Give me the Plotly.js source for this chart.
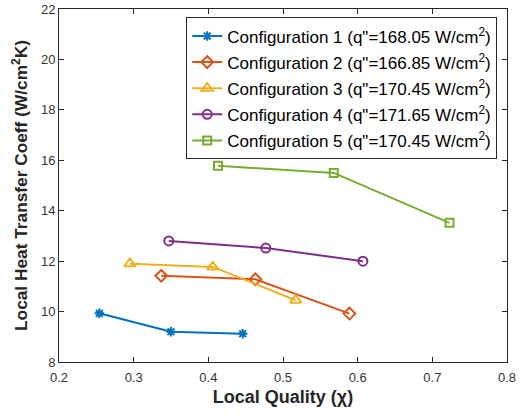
<!DOCTYPE html>
<html>
<head>
<meta charset="utf-8">
<script src="https://cdn.plot.ly/plotly-3.0.1.min.js"></script>
<style>html,body{margin:0;padding:0;background:#fff}#chart{width:519px;height:417px}</style>
</head>
<body>
<div id="chart"></div>
<script>
const seriesNames = [
  'Configuration 1 (q"=168.05 W/cm<sup>2</sup>)',
  'Configuration 2 (q"=166.85 W/cm<sup>2</sup>)',
  'Configuration 3 (q"=170.45 W/cm<sup>2</sup>)',
  'Configuration 4 (q"=171.65 W/cm<sup>2</sup>)',
  'Configuration 5 (q"=170.45 W/cm<sup>2</sup>)'
];
const x1 = [0.254, 0.350, 0.446];
const y1 = [9.93, 9.20, 9.12];
const x2 = [0.337, 0.463, 0.589];
const y2 = [11.42, 11.28, 9.92];
const x3 = [0.295, 0.406, 0.517];
const y3 = [11.90, 11.77, 10.45];
const x4 = [0.347, 0.477, 0.607];
const y4 = [12.80, 12.52, 12.00];
const x5 = [0.413, 0.568, 0.723];
const y5 = [15.78, 15.50, 13.52];
const xTicks = [0.2, 0.3, 0.4, 0.5, 0.6, 0.7, 0.8];
const yTicks = [8, 10, 12, 14, 16, 18, 20, 22];

const colors = ['#0072BD', '#D95319', '#EDB120', '#7E2F8E', '#77AC30'];
const symbols = ['asterisk-open', 'diamond-open', 'triangle-up-open', 'circle-open', 'square-open'];
const sizes = [8, 9, 10, 9, 8];
const xs = [x1, x2, x3, x4, x5];
const ys = [y1, y2, y3, y4, y5];

const traces = xs.map((x, i) => ({
  x: x, y: ys[i], name: seriesNames[i], type: 'scatter', mode: 'lines+markers',
  legendgroup: 'g' + i,
  line: {color: colors[i], width: 2},
  marker: {symbol: symbols[i], size: sizes[i], color: colors[i], line: {color: colors[i], width: 2}}
}));

const axisCommon = {
  showgrid: false, zeroline: false, showline: true, linecolor: '#262626', linewidth: 1,
  mirror: 'ticks', ticks: 'inside', ticklen: 5, tickcolor: '#262626',
  tickfont: {family: 'Liberation Sans, Arial, sans-serif', size: 13, color: '#333333'}
};

const layout = {
  width: 519, height: 417,
  margin: {l: 59, r: 12, t: 9, b: 55},
  paper_bgcolor: '#fff', plot_bgcolor: '#fff',
  showlegend: true,
  legend: {
    x: 0.284, y: 0.976, xanchor: 'left', yanchor: 'top',
    bgcolor: '#fff', bordercolor: '#262626', borderwidth: 1,
    font: {family: 'Liberation Sans, Arial, sans-serif', size: 17, color: '#000'},
    traceorder: 'grouped', tracegroupgap: 1
  },
  xaxis: Object.assign({}, axisCommon, {
    range: [0.2, 0.8], tickvals: xTicks, ticktext: xTicks.map(v => v.toFixed(1)),
    ticklabelstandoff: 3,
    title: {text: 'Local Quality (χ)', standoff: 6,
      font: {family: 'Liberation Sans, Arial, sans-serif', size: 18, color: '#262626', weight: 'bold'}}
  }),
  yaxis: Object.assign({}, axisCommon, {
    range: [8, 22], tickvals: yTicks,
    title: {text: 'Local Heat Transfer Coeff (W/cm<sup>2</sup>K)', standoff: 8,
      font: {family: 'Liberation Sans, Arial, sans-serif', size: 17.3, color: '#262626', weight: 'bold'}}
  })
};

Plotly.newPlot('chart', traces, layout, {displayModeBar: false, staticPlot: true});
</script>
</body>
</html>
